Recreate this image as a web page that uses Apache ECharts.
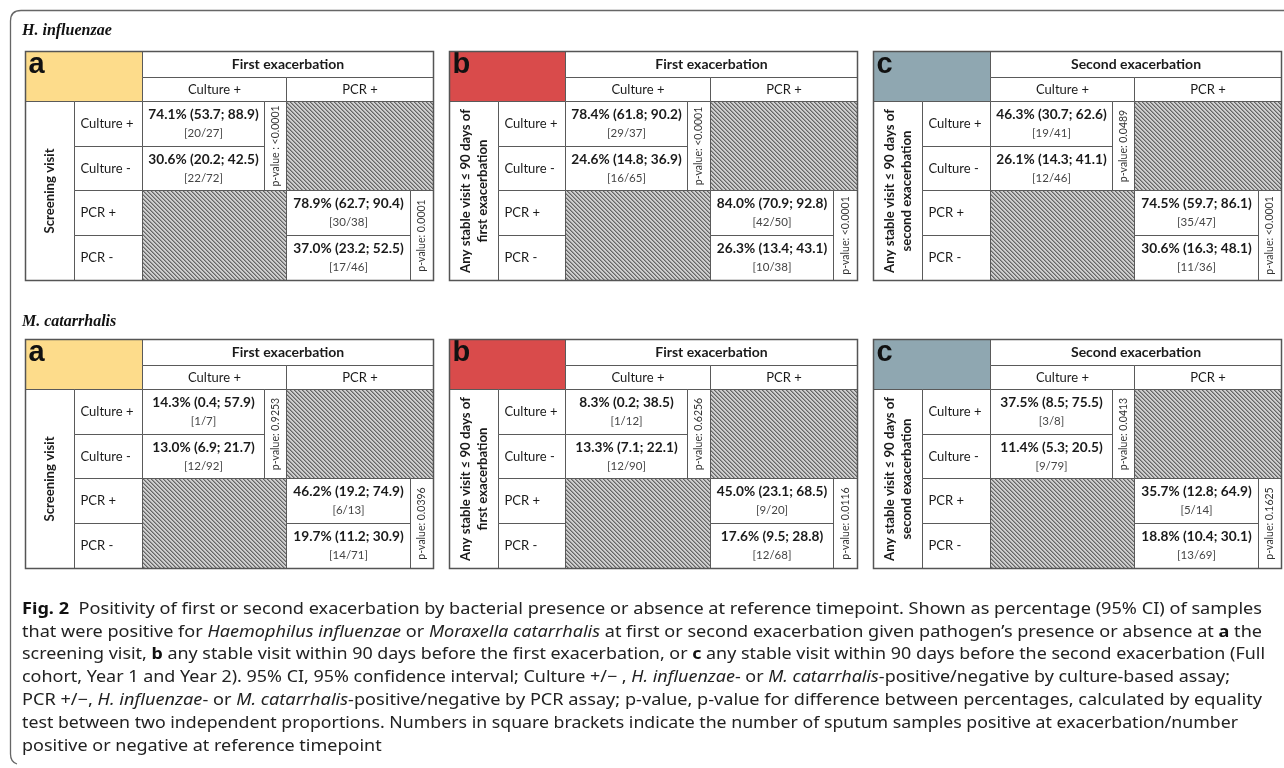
<!DOCTYPE html>
<html><head><meta charset="utf-8">
<script src="https://cdn.jsdelivr.net/npm/echarts@6/dist/echarts.min.js"></script>
<style>html,body{margin:0;padding:0;background:#fff}#c{width:1284px;height:768px}</style>
</head><body><div id="c"></div>
<script>
// ---------- data ----------
const SPECIES = ['H. influenzae', 'M. catarrhalis'];
const PANELS = ['a', 'b', 'c'];
const EXACERBATION = ['First exacerbation', 'First exacerbation', 'Second exacerbation'];
const REF_TIMEPOINT = ['Screening visit', 'Any stable visit ≤ 90 days of\nfirst exacerbation', 'Any stable visit ≤ 90 days of\nsecond exacerbation'];
const ROW_LABELS = ['Culture +', 'Culture -', 'PCR +', 'PCR -'];
const COL_LABELS = ['Culture +', 'PCR +'];

const HI_PCT = [[74.1, 30.6, 78.9, 37.0], [78.4, 24.6, 84.0, 26.3], [46.3, 26.1, 74.5, 30.6]];
const HI_LO = [[53.7, 20.2, 62.7, 23.2], [61.8, 14.8, 70.9, 13.4], [30.7, 14.3, 59.7, 16.3]];
const HI_UP = [[88.9, 42.5, 90.4, 52.5], [90.2, 36.9, 92.8, 43.1], [62.6, 41.1, 86.1, 48.1]];
const HI_N = [[20, 22, 30, 17], [29, 16, 42, 10], [19, 12, 35, 11]];
const HI_TOTAL = [[27, 72, 38, 46], [37, 65, 50, 38], [41, 46, 47, 36]];
const HI_P = [['p-value : <0.0001', 'p-value: 0.0001'], ['p-value: <0.0001', 'p-value: <0.0001'], ['p-value: 0.0489', 'p-value: <0.0001']];

const MC_PCT = [[14.3, 13.0, 46.2, 19.7], [8.3, 13.3, 45.0, 17.6], [37.5, 11.4, 35.7, 18.8]];
const MC_LO = [[0.4, 6.9, 19.2, 11.2], [0.2, 7.1, 23.1, 9.5], [8.5, 5.3, 12.8, 10.4]];
const MC_UP = [[57.9, 21.7, 74.9, 30.9], [38.5, 22.1, 68.5, 28.8], [75.5, 20.5, 64.9, 30.1]];
const MC_N = [[1, 12, 6, 14], [1, 12, 9, 12], [3, 9, 5, 13]];
const MC_TOTAL = [[7, 92, 13, 71], [12, 90, 20, 68], [8, 79, 14, 69]];
const MC_P = [['p-value: 0.9253', 'p-value: 0.0396'], ['p-value: 0.6256', 'p-value: 0.0116'], ['p-value: 0.0413', 'p-value: 0.1625']];

const CAPTION = [
  [['b', 'Fig. 2'], ['n', '  Positivity of first or second exacerbation by bacterial presence or absence at reference timepoint. Shown as percentage (95% CI) of samples']],
  [['n', 'that were positive for '], ['i', 'Haemophilus influenzae'], ['n', ' or '], ['i', 'Moraxella catarrhalis'], ['n', ' at first or second exacerbation given pathogen’s presence or absence at '], ['b', 'a'], ['n', ' the']],
  [['n', 'screening visit, '], ['b', 'b'], ['n', ' any stable visit within 90 days before the first exacerbation, or '], ['b', 'c'], ['n', ' any stable visit within 90 days before the second exacerbation (Full']],
  [['n', 'cohort, Year 1 and Year 2). 95% CI, 95% confidence interval; Culture +/− , '], ['i', 'H. influenzae'], ['n', '- or '], ['i', 'M. catarrhalis'], ['n', '-positive/negative by culture-based assay;']],
  [['n', 'PCR +/−, '], ['i', 'H. influenzae'], ['n', '- or '], ['i', 'M. catarrhalis'], ['n', '-positive/negative by PCR assay; p-value, p-value for difference between percentages, calculated by equality']],
  [['n', 'test between two independent proportions. Numbers in square brackets indicate the number of sputum samples positive at exacerbation/number']],
  [['n', 'positive or negative at reference timepoint']]
];

// ---------- layout ----------
const TABLE_X = [25, 448.5, 873];
const TABLE_Y = [51, 339];
const TW = 408, TH = 229;
const COLS = [0, 49, 116.5, 238.5, 261, 384.5, 408];
const ROWS = [0, 25.5, 50, 94.5, 139, 184, 229];
const CORNER_COLORS = ['#FDDC8B', '#D94B4B', '#8FA7B1'];
const TFONT = 'Lato, "Open Sans", sans-serif';

// cell definitions: [c0, r0, c1, r1, kind, index]
const CELLS = [
  [0, 0, 2, 2, 'corner', 0],
  [2, 0, 6, 1, 'head', 0],
  [2, 1, 4, 2, 'sub', 0],
  [4, 1, 6, 2, 'sub', 1],
  [0, 2, 1, 6, 'rowtitle', 0],
  [1, 2, 2, 3, 'rowlab', 0],
  [1, 3, 2, 4, 'rowlab', 1],
  [1, 4, 2, 5, 'rowlab', 2],
  [1, 5, 2, 6, 'rowlab', 3],
  [2, 2, 3, 3, 'val', 0],
  [2, 3, 3, 4, 'val', 1],
  [3, 2, 4, 4, 'p', 0],
  [4, 2, 6, 4, 'hatch', 0],
  [2, 4, 4, 6, 'hatch', 0],
  [4, 4, 5, 5, 'val', 2],
  [4, 5, 5, 6, 'val', 3],
  [5, 4, 6, 6, 'p', 1],
  [0, 0, 6, 6, 'outline', 0]
];

// hatch pattern
const pc = document.createElement('canvas');
pc.width = 4; pc.height = 4;
(function () {
  const ctx = pc.getContext('2d');
  ctx.fillStyle = '#cfcfcf'; ctx.fillRect(0, 0, 4, 4);
  ctx.fillStyle = '#666';
  for (let i = 0; i < 4; i++) ctx.fillRect(i, i, 1, 1);
  ctx.fillStyle = '#999';
  for (let i = 0; i < 4; i++) ctx.fillRect((i + 1) % 4, i, 1, 1);
})();
const HATCH = { image: pc, repeat: 'repeat' };

function fmt(v) { return v.toFixed(1); }

function makeRender(sp, pn) {
  const PCT = sp === 0 ? HI_PCT : MC_PCT, LO = sp === 0 ? HI_LO : MC_LO, UP = sp === 0 ? HI_UP : MC_UP;
  const N = sp === 0 ? HI_N : MC_N, TOT = sp === 0 ? HI_TOTAL : MC_TOTAL, P = sp === 0 ? HI_P : MC_P;
  return function (params, api) {
    const cell = CELLS[params.dataIndex];
    const kind = cell[4], k = cell[5];
    const a = api.coord([api.value(0), api.value(1)]);
    const b = api.coord([api.value(2), api.value(3)]);
    const x = Math.round(a[0]) + 0.5, y = Math.round(a[1]) + 0.5;
    const w = Math.round(b[0]) - Math.round(a[0]), h = Math.round(b[1]) - Math.round(a[1]);
    const cx = x + w / 2, cy = y + h / 2;
    if (kind === 'outline') {
      return { type: 'rect', shape: { x, y, width: w, height: h }, style: { fill: null, stroke: '#555', lineWidth: 1.5 }, z2: 10 };
    }
    let fill = '#fff';
    if (kind === 'corner') fill = CORNER_COLORS[pn];
    if (kind === 'hatch') fill = HATCH;
    const ch = [{ type: 'rect', shape: { x, y, width: w, height: h }, style: { fill, stroke: '#5a5a5a', lineWidth: 1 } }];
    const T = (tx, ty, text, st, rot) => ({ type: 'text', x: tx, y: ty, rotation: rot || 0,
      style: Object.assign({ text, fill: '#1a1a1a', align: 'center', verticalAlign: 'middle', fontFamily: TFONT, fontSize: 13 }, st) });
    if (kind === 'corner') ch.push(T(x + 3, y + 13, PANELS[pn], { align: 'left', fontFamily: 'Arial, "Liberation Sans", sans-serif', fontWeight: 'bold', fontSize: 29, fill: '#111' }));
    if (kind === 'head') ch.push(T(cx, cy, EXACERBATION[pn], { fontWeight: 'bold', fontSize: 14 }));
    if (kind === 'sub') ch.push(T(cx, cy, COL_LABELS[k], { fontSize: 13 }));
    if (kind === 'rowlab') ch.push(T(x + 6, cy, ROW_LABELS[k], { align: 'left', fontSize: 13 }));
    if (kind === 'rowtitle') ch.push(T(cx, cy, REF_TIMEPOINT[pn], { fontWeight: 'bold', fontSize: 13.2, lineHeight: 17 }, Math.PI / 2));
    if (kind === 'val') {
      ch.push(T(cx, cy - 9, fmt(PCT[pn][k]) + '% (' + fmt(LO[pn][k]) + '; ' + fmt(UP[pn][k]) + ')', { fontWeight: 'bold', fontSize: 13.7 }));
      ch.push(T(cx, cy + 9.5, '[' + N[pn][k] + '/' + TOT[pn][k] + ']', { fontSize: 11.5, fill: '#444' }));
    }
    if (kind === 'p') ch.push(T(cx, cy, P[pn][k], { fontSize: 10.5, fill: '#333' }, Math.PI / 2));
    return { type: 'group', children: ch };
  };
}

const grids = [], xAxes = [], yAxes = [], series = [];
for (let sp = 0; sp < 2; sp++) {
  for (let pn = 0; pn < 3; pn++) {
    const g = grids.length;
    grids.push({ left: TABLE_X[pn], top: TABLE_Y[sp], width: TW, height: TH });
    xAxes.push({ type: 'value', gridIndex: g, min: 0, max: TW, show: false });
    yAxes.push({ type: 'value', gridIndex: g, min: 0, max: TH, inverse: true, show: false });
    series.push({
      type: 'custom', xAxisIndex: g, yAxisIndex: g, silent: true, animation: false,
      clip: false,
      data: CELLS.map(c => [COLS[c[0]], ROWS[c[1]], COLS[c[2]], ROWS[c[3]]]),
      renderItem: makeRender(sp, pn)
    });
  }
}

// caption measuring
const CAP_FONT = '"Noto Sans", "Open Sans", sans-serif';
const CAP_SIZE = 16;
const CAP_TARGET = [1240, 1240, 1243, 1208, 1240, 1216, 0];
const CAP_Y = [609, 632, 654, 677, 700, 723, 746];
const mctx = document.createElement('canvas').getContext('2d');
function segFont(t) {
  return (t === 'i' ? 'italic ' : '') + (t === 'b' ? 'bold ' : '') + CAP_SIZE + 'px ' + CAP_FONT;
}
const FRAME = { stroke: '#666', lineWidth: 1.3, fill: null };
const graphics = [];
graphics.push({ type: 'polyline', shape: { points: [[1284, 10.5], [21, 10.5]] }, style: FRAME });
graphics.push({ type: 'bezierCurve', shape: { x1: 21, y1: 10.5, cpx1: 10.5, cpy1: 10.5, x2: 10.5, y2: 21 }, style: FRAME });
graphics.push({ type: 'polyline', shape: { points: [[10.5, 21], [10.5, 754]] }, style: FRAME });
graphics.push({ type: 'bezierCurve', shape: { x1: 10.5, y1: 754, cpx1: 10.5, cpy1: 762, x2: 17, y2: 764 }, style: FRAME });
const SERIF = '"Liberation Serif", "Times New Roman", serif';
graphics.push({ type: 'text', x: 22, y: 31, style: { text: SPECIES[0], verticalAlign: 'middle', fontFamily: SERIF, fontStyle: 'italic', fontWeight: 'bold', fontSize: 16, fill: '#111' } });
graphics.push({ type: 'text', x: 22, y: 322, style: { text: SPECIES[1], verticalAlign: 'middle', fontFamily: SERIF, fontStyle: 'italic', fontWeight: 'bold', fontSize: 16, fill: '#111' } });
const scales = CAPTION.map((line, i) => {
  let wsum = 0;
  line.forEach(s => { mctx.font = segFont(s[0]); wsum += mctx.measureText(s[1]).width; });
  return CAP_TARGET[i] ? CAP_TARGET[i] / wsum : 0;
});
const nz = scales.filter(s => s > 0);
const meanScale = nz.reduce((p, q) => p + q, 0) / nz.length;
CAPTION.forEach((line, i) => {
  const sx = scales[i] || meanScale;
  const text = line.map(s => '{' + s[0] + '|' + s[1] + '}').join('');
  graphics.push({ type: 'text', x: 22, y: CAP_Y[i], scaleX: sx, style: {
    text, verticalAlign: 'middle', align: 'left', fill: '#222',
    fontFamily: CAP_FONT, fontSize: CAP_SIZE,
    rich: {
      n: { fontFamily: CAP_FONT, fontSize: CAP_SIZE, fill: '#222' },
      i: { fontFamily: CAP_FONT, fontSize: CAP_SIZE, fontStyle: 'italic', fill: '#222' },
      b: { fontFamily: CAP_FONT, fontSize: CAP_SIZE, fontWeight: 'bold', fill: '#111' }
    } } });
});

const chart = echarts.init(document.getElementById('c'), null, { renderer: 'canvas' });
chart.setOption({
  animation: false,
  grid: grids, xAxis: xAxes, yAxis: yAxes, series,
  graphic: graphics
});
</script></body></html>
